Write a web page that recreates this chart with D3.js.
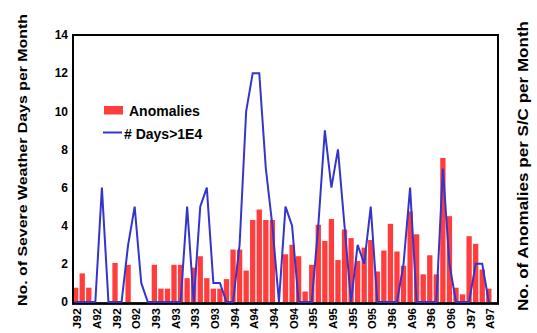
<!DOCTYPE html>
<html>
<head>
<meta charset="utf-8">
<script src="https://cdn.jsdelivr.net/npm/d3@7"></script>
<style>
  body { margin: 0; background: #fff; }
  svg { display: block; font-family: "Liberation Sans", Arial, sans-serif; font-weight: bold; }
</style>
</head>
<body>
<div id="chart"></div>
<script>
// Months on the x axis (Jan 1992 .. May 1997)
const months = [
  "Jan92","Feb92","Mar92","Apr92","May92","Jun92","Jul92","Aug92","Sep92","Oct92","Nov92","Dec92",
  "Jan93","Feb93","Mar93","Apr93","May93","Jun93","Jul93","Aug93","Sep93","Oct93","Nov93","Dec93",
  "Jan94","Feb94","Mar94","Apr94","May94","Jun94","Jul94","Aug94","Sep94","Oct94","Nov94","Dec94",
  "Jan95","Feb95","Mar95","Apr95","May95","Jun95","Jul95","Aug95","Sep95","Oct95","Nov95","Dec95",
  "Jan96","Feb96","Mar96","Apr96","May96","Jun96","Jul96","Aug96","Sep96","Oct96","Nov96","Dec96",
  "Jan97","Feb97","Mar97","Apr97","May97"
];

// Quarterly tick labels (Jan, Apr, Jul, Oct)
const tickLabels = ["J92","A92","J92","O92","J93","A93","J93","O93","J94","A94","J94","O94",
  "J95","A95","J95","O95","J96","A96","J96","O96","J97","A97"];

// No. of anomalies per S/C per month (bars)
const anomalies = [
  0.75, 1.5, 0.75, 0, 0, 0, 2.05, 0, 1.95, 0, 0, 0,
  1.95, 0.7, 0.7, 1.95, 1.95, 1.25, 1.8, 2.4, 1.25, 0.7, 0.7, 1.2,
  2.75, 2.75, 1.65, 4.3, 4.85, 4.3, 4.3, 0, 2.5, 3.0, 2.4, 0.55,
  1.95, 4.05, 3.2, 4.35, 2.2, 3.8, 3.35, 2.15, 2.85, 3.25, 1.6, 2.7,
  4.1, 2.65, 1.9, 4.75, 3.55, 1.45, 2.45, 1.45, 7.55, 4.5, 0.75, 0.4,
  3.45, 3.05, 1.7, 0.7
];

// No. of severe weather days (>1E4) per month (line)
const severeDays = [
  0, 0, 0, 0, 6, 0, 0, 0, 3, 5, 1, 0,
  0, 0, 0, 0, 0, 5, 0, 5, 6, 1, 1, 0,
  0, 3, 10, 12, 12, 7, 4, 0, 5, 4, 0, 0,
  0, 4, 9, 6, 8, 4, 0, 3, 2, 5, 0, 0,
  0, 0, 2, 6, 0, 0, 0, 0, 7, 2, 0, 0,
  0, 2, 2, 0
];

const yTicks = [0, 2, 4, 6, 8, 10, 12, 14];

const width = 537, height = 333;
const margin = { top: 35, right: 39, bottom: 31, left: 73 };

const svg = d3.select("#chart").append("svg")
  .attr("width", width)
  .attr("height", height);

const x = d3.scaleBand()
  .domain(months)
  .range([margin.left, width - margin.right])
  .paddingInner(0.19)
  .paddingOuter(0);

const y = d3.scaleLinear()
  .domain([0, 14])
  .range([302, margin.top]);

// bars
svg.append("g")
  .selectAll("rect")
  .data(anomalies)
  .enter().append("rect")
  .attr("x", (d, i) => x(months[i]))
  .attr("y", d => y(d))
  .attr("width", x.bandwidth())
  .attr("height", d => y(0) - y(d))
  .attr("fill", "#ff3d3d");

// frame
svg.append("rect")
  .attr("x", margin.left)
  .attr("y", margin.top)
  .attr("width", width - margin.right - margin.left)
  .attr("height", 303.5 - margin.top)
  .attr("fill", "none")
  .attr("stroke", "#000")
  .attr("stroke-width", 2);

svg.append("line")
  .attr("x1", margin.left - 1).attr("x2", width - margin.right + 1)
  .attr("y1", 303.5).attr("y2", 303.5)
  .attr("stroke", "#000")
  .attr("stroke-width", 2.5);

// line
const line = d3.line()
  .x((d, i) => x(months[i]) + x.bandwidth() / 2)
  .y(d => y(d));

svg.append("path")
  .datum(severeDays)
  .attr("d", line)
  .attr("fill", "none")
  .attr("stroke", "#3535cc")
  .attr("stroke-width", 2)
  .attr("stroke-linejoin", "miter");

// y axis labels
const yAxis = d3.axisLeft(y).tickValues(yTicks).tickSize(0).tickPadding(5);
const gy = svg.append("g")
  .attr("transform", `translate(${margin.left},0)`)
  .call(yAxis);
gy.select(".domain").remove();
gy.selectAll("text")
  .attr("font-size", 12)
  .attr("font-weight", "bold")
  .attr("font-family", "'Liberation Sans', Arial, sans-serif")
  .attr("fill", "#000");

// x tick labels (rotated)
svg.append("g")
  .selectAll("text")
  .data(tickLabels)
  .enter().append("text")
  .attr("transform", (d, i) => {
    const cx = x(months[i * 3]) + x.bandwidth() / 2 + 5.5;
    return `translate(${cx},308) rotate(-90)`;
  })
  .attr("text-anchor", "end")
  .attr("font-size", 10)
  .attr("textLength", 21)
  .attr("lengthAdjust", "spacingAndGlyphs")
  .text(d => d);

// axis titles
svg.append("text")
  .attr("transform", "translate(26.5,160) rotate(-90)")
  .attr("text-anchor", "middle")
  .attr("font-size", 13.5)
  .attr("textLength", 292)
  .attr("lengthAdjust", "spacingAndGlyphs")
  .text("No. of Severe Weather Days per Month");

svg.append("text")
  .attr("transform", "translate(528,166) rotate(-90)")
  .attr("text-anchor", "middle")
  .attr("font-size", 14)
  .attr("textLength", 290)
  .attr("lengthAdjust", "spacingAndGlyphs")
  .text("No. of Anomalies per S/C per Month");

// legend
const legend = svg.append("g");
legend.append("rect")
  .attr("x", 104).attr("y", 106)
  .attr("width", 19).attr("height", 8.5)
  .attr("fill", "#ff3d3d");
legend.append("text")
  .attr("x", 129).attr("y", 116)
  .attr("font-size", 14)
  .text("Anomalies");
legend.append("line")
  .attr("x1", 103).attr("x2", 122)
  .attr("y1", 132.5).attr("y2", 132.5)
  .attr("stroke", "#3535cc")
  .attr("stroke-width", 2);
legend.append("text")
  .attr("x", 124).attr("y", 139)
  .attr("font-size", 14)
  .text("# Days>1E4");
</script>
</body>
</html>
